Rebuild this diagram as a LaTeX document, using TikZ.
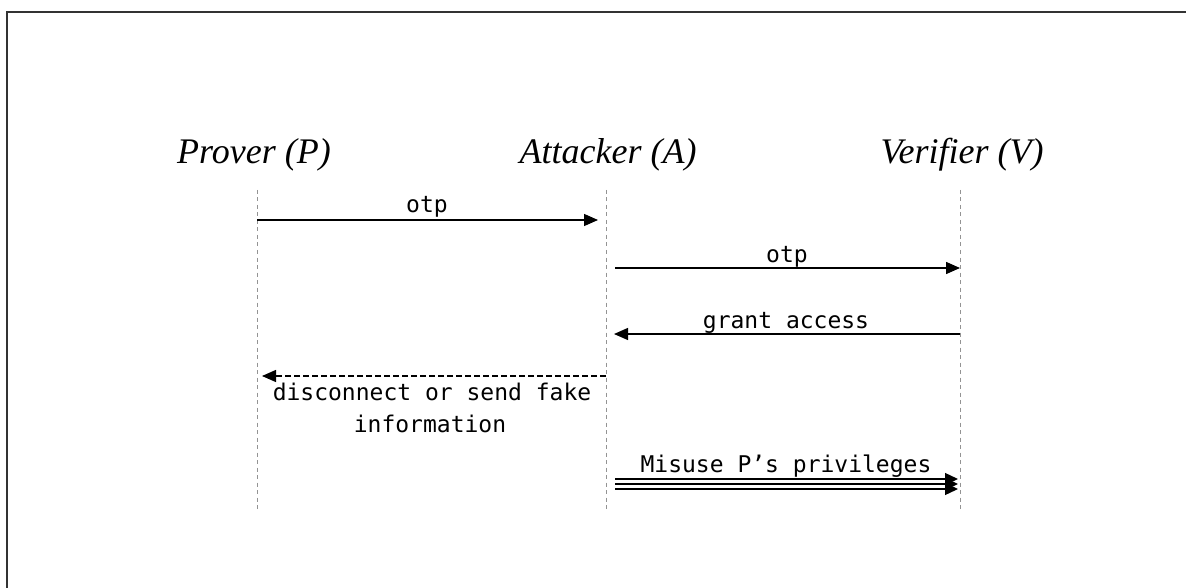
\documentclass[tikz,border=0pt]{standalone}
\usepackage{fontspec}
\setmainfont{Liberation Serif}
\newfontfamily\monofont{DejaVu Sans Mono}
\usetikzlibrary{arrows.meta}
\begin{document}
\begin{tikzpicture}[x=1pt,y=-1pt,
  actor/.style={font=\fontsize{36}{40}\selectfont\itshape, anchor=base, inner sep=0pt},
  lifeline/.style={draw=gray!85, line width=1pt, dash pattern=on 4pt off 3.5pt},
  msg/.style={draw=black, line width=1.4pt, -{Triangle[length=14pt,width=12pt]}},
  retmsg/.style={msg, dash pattern=on 6pt off 3pt},
  bundle/.style={draw=black, line width=1.3pt, -{Triangle[length=13pt,width=12pt]}},
  lbl/.style={font=\fontsize{23}{32}\selectfont\monofont, anchor=base, inner sep=0pt, align=center}]
  \useasboundingbox (0,0) rectangle (1186,588);
  % frame
  \draw[line width=2pt, black!80] (1186,12) -- (7,12) -- (7,588);

  % actors
  \node[actor] (hp) at (254,164) {Prover (P)};
  \node[actor] (ha) at (608,164) {Attacker (A)};
  \node[actor] (hv) at (962,164) {Verifier (V)};

  % lifelines
  \coordinate (pt) at (257,190); \coordinate (pb) at (257,512);
  \coordinate (at) at (606,190); \coordinate (ab) at (606,512);
  \coordinate (vt) at (960,190); \coordinate (vb) at (960,512);
  \draw[lifeline] (pt) -- (pb);
  \draw[lifeline] (at) -- (ab);
  \draw[lifeline] (vt) -- (vb);

  % message end points
  \coordinate (m1a) at (257,220); \coordinate (m1b) at (598,220);
  \coordinate (m2a) at (615,268); \coordinate (m2b) at (960,268);
  \coordinate (m3a) at (960,334); \coordinate (m3b) at (614,334);
  \coordinate (m4a) at (606,376); \coordinate (m4b) at (262,376);

  \draw[msg] (m1a) -- (m1b);
  \node[lbl] (l1) at (427,213) {otp};

  \draw[msg] (m2a) -- (m2b);
  \node[lbl] (l2) at (787,262) {otp};

  \draw[msg] (m3a) -- (m3b);
  \node[lbl] (l3) at (786,328) {grant access};

  \draw[retmsg] (m4a) -- (m4b);
  \node[lbl] (l4a) at (432,400) {disconnect or send fake};
  \node[lbl] (l4b) at (430,432) {information};

  % bundled privilege misuse
  \foreach \yy [count=\i] in {479,484,489} {
    \coordinate (b\i a) at (615,\yy);
    \coordinate (b\i b) at (958,\yy);
    \draw[bundle] (b\i a) -- (b\i b);
  }
  \node[lbl] (l5) at (786,472) {Misuse P’s privileges};
\end{tikzpicture}
\end{document}
